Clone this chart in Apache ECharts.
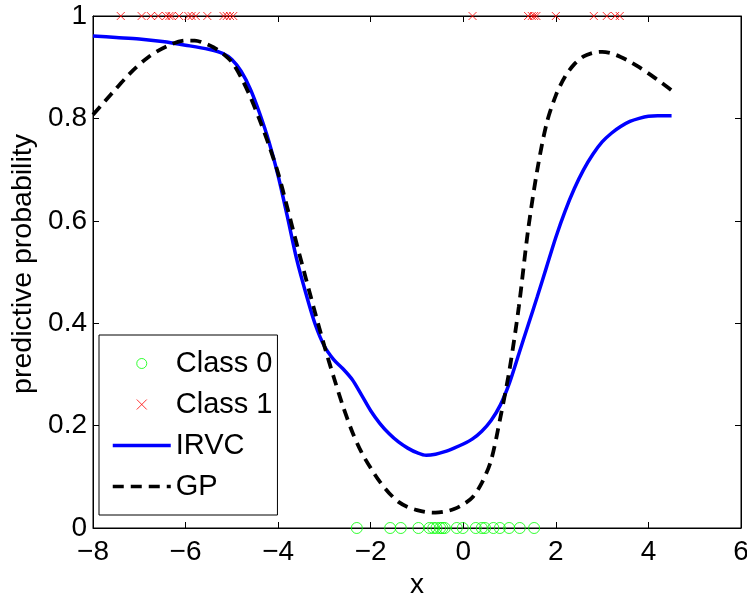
<!DOCTYPE html>
<html><head><meta charset="utf-8">
<script src="https://cdn.jsdelivr.net/npm/echarts@6/dist/echarts.min.js"></script>
<style>html,body{margin:0;padding:0;background:#fff}#c{width:747px;height:594px}</style>
</head><body><div id="c"></div>
<script>
// ---- data ----
const irvcX = [-8,-7.5,-7,-6.5,-6,-5.5,-5.2,-5,-4.8,-4.6,-4.4,-4.2,-4,-3.8,-3.6,-3.4,-3.2,-3,-2.8,-2.6,-2.4,-2.2,-2,-1.8,-1.6,-1.4,-1.2,-1,-0.8,-0.6,-0.4,-0.2,0,0.2,0.4,0.6,0.8,1,1.2,1.4,1.6,1.8,2,2.2,2.4,2.6,2.8,3,3.2,3.4,3.6,3.8,4,4.2,4.5];
const irvcY = [0.961,0.958,0.955,0.950,0.943,0.935,0.927,0.915,0.892,0.857,0.810,0.755,0.688,0.608,0.525,0.458,0.398,0.355,0.329,0.311,0.290,0.260,0.229,0.204,0.184,0.168,0.156,0.147,0.142,0.144,0.149,0.156,0.164,0.174,0.189,0.210,0.240,0.284,0.340,0.396,0.452,0.510,0.568,0.619,0.663,0.700,0.730,0.754,0.771,0.784,0.794,0.800,0.804,0.805,0.805];
const gpX = [-8,-7.6,-7.2,-6.8,-6.4,-6,-5.8,-5.6,-5.4,-5.2,-5,-4.8,-4.6,-4.4,-4.2,-4,-3.8,-3.6,-3.4,-3.2,-3,-2.8,-2.6,-2.4,-2.2,-2,-1.8,-1.6,-1.4,-1.2,-1,-0.8,-0.6,-0.4,-0.2,0,0.2,0.4,0.6,0.8,1,1.2,1.4,1.6,1.8,2,2.2,2.4,2.6,2.8,3,3.2,3.4,3.6,3.8,4,4.2,4.4,4.5];
const gpY = [0.807,0.848,0.888,0.920,0.941,0.952,0.952,0.947,0.939,0.927,0.910,0.880,0.842,0.797,0.748,0.693,0.625,0.555,0.487,0.420,0.355,0.295,0.238,0.188,0.148,0.117,0.090,0.068,0.051,0.041,0.035,0.031,0.030,0.032,0.037,0.046,0.060,0.088,0.132,0.215,0.310,0.432,0.582,0.700,0.790,0.845,0.882,0.906,0.921,0.928,0.930,0.927,0.920,0.911,0.900,0.888,0.875,0.862,0.855];
const class0X = [-2.30,-1.58,-1.35,-0.97,-0.73,-0.65,-0.58,-0.50,-0.45,-0.40,-0.14,-0.01,0.27,0.40,0.47,0.65,0.79,0.99,1.22,1.53];
const class1X = [-7.40,-6.95,-6.75,-6.59,-6.42,-6.35,-6.30,-6.14,-5.94,-5.87,-5.78,-5.53,-5.18,-5.11,-5.04,-4.97,0.20,1.40,1.48,1.53,1.58,2.00,2.82,3.10,3.28,3.38];
const class0Y = 0, class1Y = 1;
const xTicks = {min:-8, max:6, step:2};
const yTicks = {min:0, max:1, step:0.2};
const seriesNames = ['Class 0','Class 1','IRVC','GP'];
// ---- chart ----
const font = '"Liberation Sans", Arial, Helvetica, sans-serif';
const minusFmt = v => String(v).replace('-', '\u2212');
const crossPath = 'path://M0,0L10,10M10,0L0,10';
const chart = echarts.init(document.getElementById('c'), null, {renderer:'canvas'});
const axLine = {show:true, onZero:false, lineStyle:{color:'#000', width:1}};
const axTick = {show:true, inside:true, length:6, lineStyle:{color:'#000', width:1}};
const lbl = {fontSize:28, color:'#000', fontFamily:font};
const noDot = {color:'transparent', borderColor:'transparent', borderWidth:0, opacity:0};
chart.setOption({
  animation:false,
  backgroundColor:'#fff',
  grid:{left:93, top:16, right:6, bottom:66, containLabel:false, outerBoundsMode:'none', show:true, borderColor:'#000', borderWidth:1, backgroundColor:'transparent'},
  xAxis:[
    {type:'value', min:xTicks.min, max:xTicks.max, interval:xTicks.step, name:'x', nameLocation:'middle', nameGap:35,
     nameTextStyle:lbl, axisLine:axLine, axisTick:axTick,
     axisLabel:Object.assign({margin:10, formatter:minusFmt}, lbl), splitLine:{show:false}},
    {type:'value', position:'top', min:xTicks.min, max:xTicks.max, interval:xTicks.step,
     axisLine:axLine, axisTick:axTick, axisLabel:{show:false}, splitLine:{show:false}}
  ],
  yAxis:[
    {type:'value', min:yTicks.min, max:yTicks.max, interval:yTicks.step, name:'predictive probability', nameLocation:'middle', nameGap:50,
     nameTextStyle:{fontSize:28.5, color:'#000', fontFamily:font, padding:[0,0,0,16]}, axisLine:axLine, axisTick:axTick,
     axisLabel:Object.assign({margin:6, formatter:minusFmt}, lbl), splitLine:{show:false}},
    {type:'value', position:'right', min:yTicks.min, max:yTicks.max, interval:yTicks.step,
     axisLine:axLine, axisTick:axTick, axisLabel:{show:false}, splitLine:{show:false}}
  ],
  legend:{
    left:99, top:335, orient:'vertical', itemWidth:58, itemHeight:10, itemGap:12,
    padding:[14,5,14,12], borderColor:'#000', borderWidth:1, backgroundColor:'#fff', borderRadius:0,
    textStyle:{fontSize:29, color:'#000', fontFamily:font},
    selectedMode:false,
    data:[
      {name:seriesNames[0], icon:'circle', itemStyle:{color:'transparent', borderColor:'#00ff00', borderWidth:1}},
      {name:seriesNames[1], icon:crossPath, itemStyle:{color:'transparent', borderColor:'#ff0000', borderWidth:1}},
      {name:seriesNames[2], itemStyle:noDot, lineStyle:{color:'#0000ff', width:3.5}},
      {name:seriesNames[3], itemStyle:noDot, lineStyle:{color:'#000', width:3.5, type:[11,7]}}
    ]
  },
  series:[
    {name:seriesNames[0], type:'scatter', clip:false, z:5, symbol:'circle', symbolSize:11,
     data:class0X.map(x=>[x,class0Y]),
     itemStyle:{color:'transparent', borderColor:'#00ff00', borderWidth:1}},
    {name:seriesNames[1], type:'scatter', clip:false, z:5, symbol:crossPath, symbolSize:8,
     data:class1X.map(x=>[x,class1Y]),
     itemStyle:{color:'transparent', borderColor:'#ff0000', borderWidth:1}},
    {name:seriesNames[2], type:'line', symbol:'none', showSymbol:false, smooth:0.3, z:3,
     data:irvcX.map((x,i)=>[x,irvcY[i]]),
     itemStyle:{color:'#0000ff'}, lineStyle:{color:'#0000ff', width:3.5}},
    {name:seriesNames[3], type:'line', symbol:'none', showSymbol:false, smooth:0.3, z:4,
     data:gpX.map((x,i)=>[x,gpY[i]]),
     itemStyle:{color:'#000'}, lineStyle:{color:'#000', width:3.8, type:[11,7]}}
  ]
});
</script>
</body></html>
